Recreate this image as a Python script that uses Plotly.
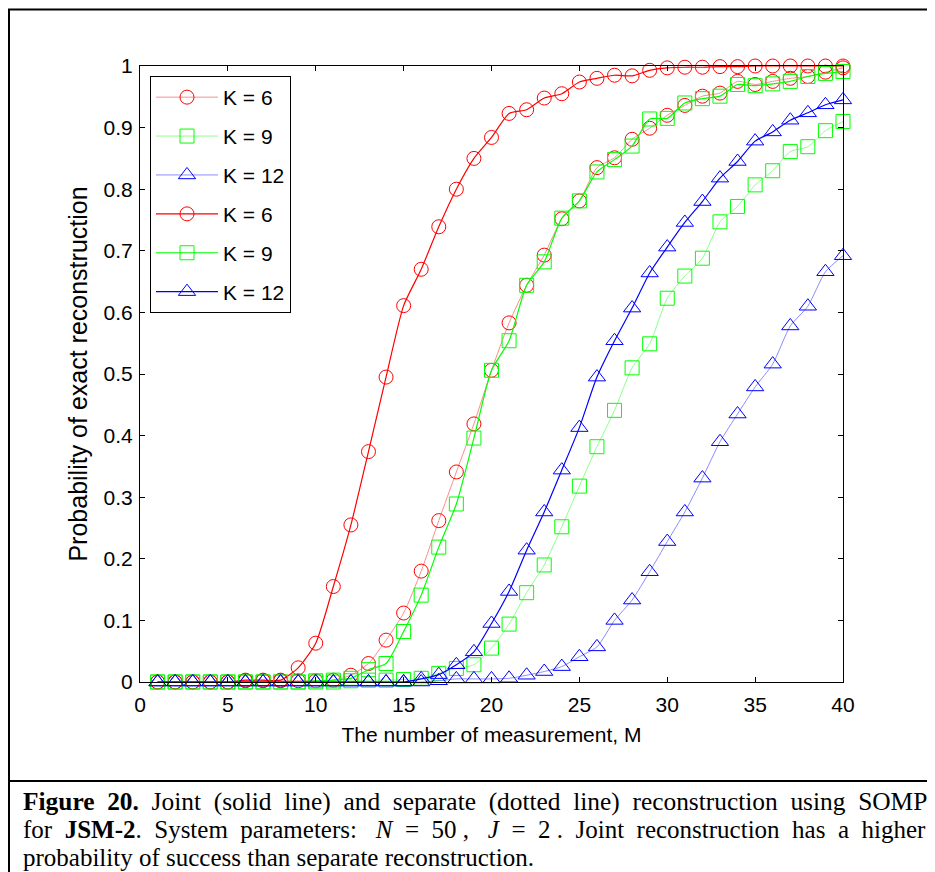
import plotly.graph_objects as go

# ---------------- data ----------------
M = list(range(1, 41))

joint_k6 = [0, 0, 0, 0, 0, 0.003, 0.003, 0.003, 0.023, 0.063,
            0.155, 0.255, 0.374, 0.495, 0.611, 0.670, 0.739, 0.800, 0.850, 0.884,
            0.923, 0.929, 0.948, 0.955, 0.974, 0.980, 0.985, 0.984, 0.993, 0.997,
            0.998, 0.998, 0.999, 0.999, 1.0, 1.0, 1.0, 1.0, 1.0, 1.0]

joint_k9 = [0, 0, 0, 0, 0, 0, 0, 0, 0, 0.002,
            0.003, 0.006, 0.020, 0.030, 0.082, 0.141, 0.219, 0.289, 0.396, 0.506,
            0.554, 0.644, 0.682, 0.753, 0.781, 0.828, 0.848, 0.870, 0.914, 0.915,
            0.940, 0.947, 0.951, 0.970, 0.968, 0.971, 0.975, 0.983, 0.988, 0.991]

joint_k12 = [0, 0, 0, 0, 0, 0, 0, 0, 0, 0,
             0, 0, 0, 0, 0, 0.005, 0.012, 0.028, 0.049, 0.095,
             0.147, 0.214, 0.276, 0.344, 0.413, 0.495, 0.554, 0.607, 0.664, 0.706,
             0.746, 0.780, 0.818, 0.845, 0.878, 0.893, 0.912, 0.924, 0.937, 0.945]

sep_k6 = [0, 0, 0, 0, 0, 0.002, 0.002, 0.002, 0.002, 0.002,
          0.003, 0.011, 0.030, 0.068, 0.112, 0.180, 0.262, 0.341, 0.419, 0.506,
          0.583, 0.644, 0.693, 0.752, 0.781, 0.835, 0.851, 0.881, 0.899, 0.920,
          0.936, 0.951, 0.956, 0.975, 0.970, 0.975, 0.980, 0.983, 0.990, 0.997]

sep_k9 = [0, 0, 0, 0, 0, 0, 0, 0, 0, 0,
          0, 0.002, 0.003, 0.003, 0.004, 0.006, 0.014, 0.022, 0.028, 0.055,
          0.094, 0.145, 0.190, 0.252, 0.318, 0.382, 0.441, 0.510, 0.549, 0.623,
          0.659, 0.688, 0.747, 0.772, 0.807, 0.830, 0.861, 0.869, 0.895, 0.910]

sep_k12 = [0, 0, 0, 0, 0, 0, 0, 0, 0, 0,
           0, 0, 0, 0, 0, 0, 0.002, 0.005, 0.005, 0.005,
           0.006, 0.011, 0.017, 0.025, 0.041, 0.057, 0.100, 0.133, 0.179, 0.228,
           0.276, 0.331, 0.390, 0.435, 0.479, 0.516, 0.578, 0.610, 0.666, 0.692]

legend_names = ["K = 6", "K = 9", "K = 12"]
x_ticks = [0, 5, 10, 15, 20, 25, 30, 35, 40]
y_ticks = [0, 0.1, 0.2, 0.3, 0.4, 0.5, 0.6, 0.7, 0.8, 0.9, 1]

x_title = "The number of measurement, M"
y_title = "Probability of exact reconstruction"

NB = "\u00a0"
cap_words_1 = ["<b>Figure", "20.</b>", "Joint", "(solid", "line)", "and", "separate",
               "(dotted", "line)", "reconstruction", "using", "SOMP"]
cap_words_2 = ["for", "<b>JSM-2</b>.", "System", "parameters:" + NB, "<i>N</i>", "=", "50" + NB + ",",
               NB + "<i>J</i>", "=", "2" + NB + ".", "Joint", "reconstruction", "has", "a", "higher"]
cap_line_3 = "probability of success than separate reconstruction."

# ---------------- layout geometry (reference pixel coords) ----------------
W, H = 935, 872
OFF = 8                      # page body margin
L, R, T, B = 140, 843, 66, 682


def px(x):
    return (x - L) / (R - L)


def py(y):
    return (B - y) / (B - T)


bright = ["#FF0000", "#00FF00", "#0000FF"]
light = ["#FF8C8C", "#8CFF8C", "#8C8CFF"]
symbols = ["circle-open", "square-open", "triangle-up-open"]
sizes = [14, 14, 15]

fig = go.Figure()

sep_series = [sep_k6, sep_k9, sep_k12]
joint_series = [joint_k6, joint_k9, joint_k12]

for i, ys in enumerate(sep_series):
    fig.add_trace(go.Scatter(
        x=M, y=ys, mode="lines+markers", name=legend_names[i],
        legendgroup=f"s{i}",
        line=dict(color=light[i], width=1, shape="spline", smoothing=0.6),
        marker=dict(symbol=symbols[i], size=sizes[i], color=bright[i],
                    line=dict(color=bright[i], width=1)),
        cliponaxis=False,
    ))

for i, ys in enumerate(joint_series):
    fig.add_trace(go.Scatter(
        x=M, y=ys, mode="lines+markers", name=legend_names[i],
        legendgroup=f"j{i}",
        line=dict(color=bright[i], width=1.2, shape="spline", smoothing=0.6),
        marker=dict(symbol=symbols[i], size=sizes[i], color=bright[i],
                    line=dict(color=bright[i], width=1)),
        cliponaxis=False,
    ))

font_sans = "Liberation Sans, Arial, sans-serif"
font_serif = "Liberation Serif, Times New Roman, serif"

axis_common = dict(
    showline=True, linecolor="black", linewidth=1, mirror="ticks",
    ticks="inside", ticklen=5, tickcolor="black", tickwidth=1,
    showgrid=False, zeroline=False,
    tickfont=dict(family=font_sans, size=21, color="black"),
)

fig.update_xaxes(range=[0, 40], tickvals=x_ticks, ticklabelstandoff=4,
                 title=dict(text=x_title, font=dict(family=font_sans, size=21, color="black"),
                            standoff=12),
                 **axis_common)
fig.update_yaxes(range=[0, 1], tickvals=y_ticks, ticklabelstandoff=2,
                 title=dict(text=y_title, font=dict(family=font_sans, size=25, color="black"),
                            standoff=8),
                 **axis_common)

shapes = [
    # outer frame
    dict(type="line", xref="paper", yref="paper", x0=px(8), x1=px(950), y0=py(9.5), y1=py(9.5),
         line=dict(color="black", width=2)),
    dict(type="line", xref="paper", yref="paper", x0=px(9), x1=px(9), y0=py(9), y1=py(890),
         line=dict(color="black", width=2)),
    dict(type="line", xref="paper", yref="paper", x0=px(8), x1=px(950), y0=py(781), y1=py(781),
         line=dict(color="black", width=2)),
]

caption_lines = [
    ((" " + NB).join(cap_words_1), 25.4),
    ((" " + NB).join(cap_words_2), 25),
    (cap_line_3, 25),
]
annotations = []
cap_y = [801, 829, 857]
for (line, fs), yy in zip(caption_lines, cap_y):
    annotations.append(dict(
        text=line, xref="paper", yref="paper", x=px(21), y=py(yy),
        xanchor="left", yanchor="middle", showarrow=False,
        font=dict(family=font_serif, size=fs, color="black"),
    ))

fig.update_layout(
    width=W, height=H,
    margin=dict(l=L - OFF, r=W - (R - OFF), t=T - OFF, b=H - (B - OFF), autoexpand=False),
    paper_bgcolor="white", plot_bgcolor="white",
    showlegend=True,
    legend=dict(
        x=px(150), y=py(76), xanchor="left", yanchor="top",
        bgcolor="white", bordercolor="black", borderwidth=1,
        font=dict(family=font_sans, size=21, color="black"),
        tracegroupgap=8.6, itemwidth=62,
    ),
    shapes=shapes,
    annotations=annotations,
)

fig.write_html("out.html")
